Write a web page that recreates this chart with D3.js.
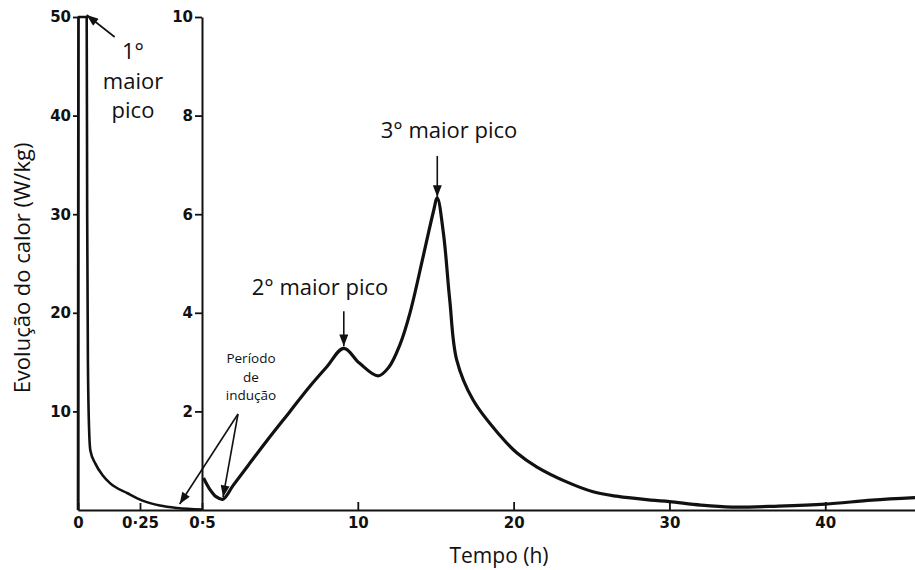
<!DOCTYPE html>
<html>
<head>
<meta charset="utf-8">
<script src="https://cdn.jsdelivr.net/npm/d3@7"></script>
<style>
  html, body { margin: 0; padding: 0; background: #fff; }
  svg { display: block; }
  .tick text { font-family: "DejaVu Sans", sans-serif; font-weight: bold; font-size: 15px; fill: #111; }
  .ann { font-family: "Open Sans", sans-serif; fill: #111; }
</style>
</head>
<body>
<script>
// ---------- data ----------
// Left panel (first 0.5 h): time (h), heat evolution (W/kg)
const leftTime  = [0, 0.002, 0.035, 0.037, 0.040, 0.045, 0.050, 0.070, 0.100, 0.130, 0.200, 0.260, 0.330, 0.400, 0.500];
const leftValue = [0, 50,    50,    30,    15,    8,     6,     4.7,   3.5,   2.7,   1.7,   0.95,  0.45,  0.2,   0.05];
// Right panel (hours): time (h), heat evolution (W/kg)
const rightTime  = [0.1, 0.5, 0.9, 1.35, 2.0, 3.0, 4.2, 5.65, 6.9, 8.0, 9.1, 10.1, 11.3, 12.0, 12.7, 13.35, 14.2, 14.85, 15.1, 15.5, 15.9, 16.35, 17.4, 19.1, 20.2, 21.5, 23.4, 25.1, 26.6, 28.8, 30, 32, 34, 37, 40, 43, 45.76];
const rightValue = [0.65, 0.42, 0.27, 0.22, 0.5, 0.92, 1.42, 2.0, 2.5, 2.9, 3.28, 2.98, 2.72, 2.9, 3.35, 4.0, 5.15, 6.05, 6.33, 5.6, 4.26, 3.04, 2.23, 1.52, 1.16, 0.87, 0.57, 0.37, 0.28, 0.2, 0.17, 0.1, 0.06, 0.08, 0.12, 0.2, 0.25];
// tick values / labels
const leftYTicks  = [10, 20, 30, 40, 50];
const rightYTicks = [2, 4, 6, 8, 10];
const leftXTicks  = [0, 0.25, 0.5];
const leftXLabels = ["0", "0·25", "0·5"];
const rightXTicks = [10, 20, 30, 40];
const xTitle = "Tempo (h)";
const yTitle = "Evolução do calor (W/kg)";

// ---------- layout ----------
const W = 915, H = 570;
const x0 = 78, xMid = 202, xEnd = 915, yTop = 17, yBase = 510;

const svg = d3.select("body").append("svg").attr("width", W).attr("height", H);

const xL = d3.scaleLinear().domain([0, 0.5]).range([x0, xMid]);
const yL = d3.scaleLinear().domain([0, 50]).range([yBase, yTop]);
const xR = d3.scaleLinear().domain([0, 45.76]).range([xMid, xEnd]);
const yR = d3.scaleLinear().domain([0, 10]).range([yBase, yTop]);

// ---------- axes ----------
function styleAxis(g) {
  g.selectAll(".domain").attr("stroke", "#111").attr("stroke-width", 2);
  g.selectAll(".tick line").attr("stroke", "#111").attr("stroke-width", 1.8);
}

svg.append("g").attr("transform", `translate(${x0},0)`)
  .call(d3.axisLeft(yL).tickValues(leftYTicks).tickSize(5).tickSizeOuter(0).tickPadding(2))
  .call(styleAxis);

svg.append("g").attr("transform", `translate(${xMid},0)`)
  .call(d3.axisLeft(yR).tickValues(rightYTicks).tickSize(7).tickSizeOuter(0).tickPadding(2))
  .call(styleAxis);

svg.append("g").attr("transform", `translate(0,${yBase})`)
  .call(d3.axisBottom(xL).tickValues(leftXTicks).tickFormat((d, i) => leftXLabels[i])
        .tickSize(-7).tickSizeOuter(0).tickPadding(7))
  .call(styleAxis);

svg.append("g").attr("transform", `translate(0,${yBase})`)
  .call(d3.axisBottom(xR).tickValues(rightXTicks).tickFormat(d3.format("d"))
        .tickSize(-8).tickSizeOuter(0).tickPadding(7))
  .call(styleAxis);

// ---------- curves ----------
const leftData = leftTime.map((t, i) => [t, leftValue[i]]);
const rightData = rightTime.map((t, i) => [t, rightValue[i]]);

svg.append("path")
  .datum(leftData)
  .attr("fill", "none").attr("stroke", "#111").attr("stroke-width", 2.6)
  .attr("stroke-linejoin", "round")
  .attr("d", d3.line().x(d => xL(d[0])).y(d => yL(d[1])).curve(d3.curveMonotoneX));

svg.append("path")
  .datum(rightData)
  .attr("fill", "none").attr("stroke", "#111").attr("stroke-width", 3.2)
  .attr("stroke-linejoin", "round")
  .attr("d", d3.line().x(d => xR(d[0])).y(d => yR(d[1])).curve(d3.curveCatmullRom.alpha(0.5)));

// ---------- axis titles ----------
svg.append("text").attr("class", "ann")
  .attr("x", 499).attr("y", 563).attr("text-anchor", "middle")
  .style("font-size", "21px").text(xTitle);

svg.append("text").attr("class", "ann")
  .attr("transform", "translate(30,268) rotate(-90)")
  .attr("text-anchor", "middle")
  .style("font-size", "22px").text(yTitle);

// ---------- annotations ----------
const defs = svg.append("defs");
defs.append("marker")
  .attr("id", "arrowhead")
  .attr("viewBox", "0 -5 13 10")
  .attr("refX", 13).attr("refY", 0)
  .attr("markerWidth", 13).attr("markerHeight", 9)
  .attr("markerUnits", "userSpaceOnUse")
  .attr("orient", "auto")
  .append("path").attr("d", "M0,-5L13,0L0,5Z").attr("fill", "#111");

function arrow(x1, y1, x2, y2) {
  svg.append("line")
    .attr("x1", x1).attr("y1", y1).attr("x2", x2).attr("y2", y2)
    .attr("stroke", "#111").attr("stroke-width", 1.6)
    .attr("marker-end", "url(#arrowhead)");
}

// 1st peak
const p1 = [xL(0.035), yL(50) - 2];
arrow(p1[0] + 28, p1[1] + 22, p1[0], p1[1]);
["1°", "maior", "pico"].forEach((s, i) => {
  svg.append("text").attr("class", "ann").attr("x", 133).attr("y", 59 + i * 29.5)
    .attr("text-anchor", "middle").style("font-size", "22px").text(s);
});

// 2nd peak
const p2 = [xR(9.1), yR(3.28) - 2];
arrow(p2[0], p2[1] - 35, p2[0], p2[1]);
svg.append("text").attr("class", "ann").attr("x", 320).attr("y", 295)
  .attr("text-anchor", "middle").style("font-size", "22px").text("2° maior pico");

// 3rd peak
const p3 = [xR(15.1), yR(6.33) - 1];
arrow(p3[0], p3[1] - 41, p3[0], p3[1]);
svg.append("text").attr("class", "ann").attr("x", 449).attr("y", 138)
  .attr("text-anchor", "middle").style("font-size", "22px").text("3° maior pico");

// induction period
const tail = [238, 414];
const i1 = [xR(1.35), yR(0.22) - 2];
const i2 = [xL(0.41), yL(0.2) - 4];
arrow(tail[0], tail[1], i1[0], i1[1]);
arrow(tail[0], tail[1], i2[0], i2[1]);
["Período", "de", "indução"].forEach((s, i) => {
  svg.append("text").attr("class", "ann").attr("x", 251).attr("y", 363 + i * 18.5)
    .attr("text-anchor", "middle").style("font-size", "13.5px").text(s);
});
</script>
</body>
</html>
